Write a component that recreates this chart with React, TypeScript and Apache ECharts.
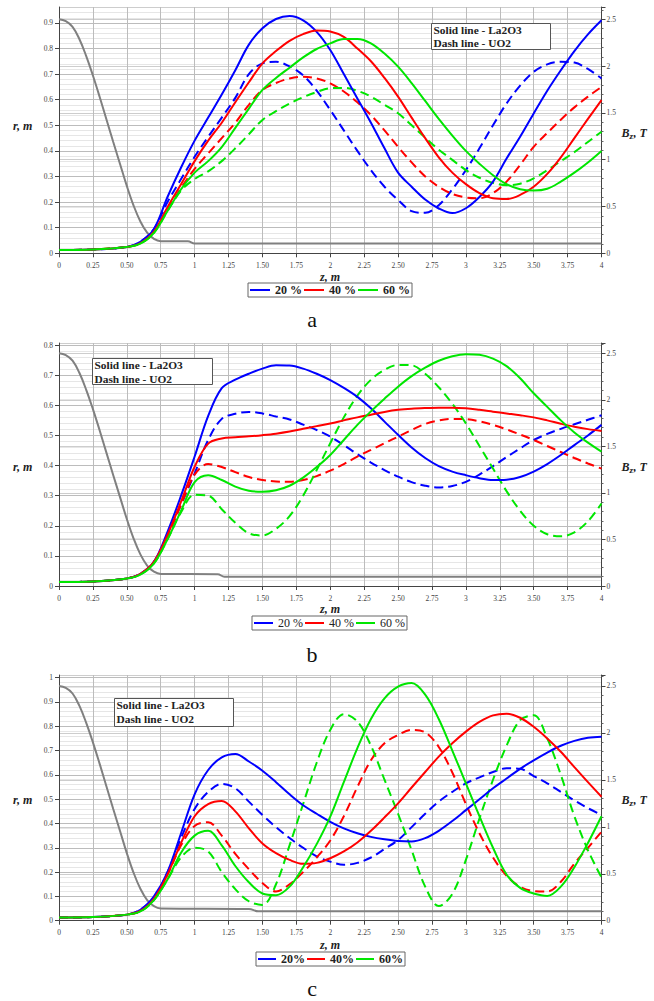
import React, { useEffect, useRef } from 'react';
import * as echarts from 'echarts';

// ---------- DATA ----------
const zGrid = [0, 0.25, 0.5, 0.6, 0.7, 0.8, 0.9, 1, 1.1, 1.2, 1.3, 1.4, 1.5, 1.6, 1.7, 1.8, 1.9, 2, 2.1, 2.2, 2.3, 2.4, 2.5, 2.6, 2.7, 2.8, 2.9, 3, 3.1, 3.2, 3.3, 3.4, 3.5, 3.6, 3.7, 3.8, 3.9, 4];
const zTicks = [0, 0.25, 0.5, 0.75, 1, 1.25, 1.5, 1.75, 2, 2.25, 2.5, 2.75, 3, 3.25, 3.5, 3.75, 4];

// panel a
const aBlueSolid = [0.013, 0.015, 0.025, 0.045, 0.095, 0.22, 0.335, 0.44, 0.53, 0.62, 0.715, 0.815, 0.879, 0.915, 0.927, 0.91, 0.865, 0.794, 0.70, 0.605, 0.51, 0.41, 0.315, 0.26, 0.21, 0.175, 0.157, 0.176, 0.22, 0.28, 0.37, 0.455, 0.546, 0.635, 0.715, 0.79, 0.855, 0.91];
const aBlueDash = [0.013, 0.015, 0.025, 0.045, 0.095, 0.2, 0.29, 0.377, 0.455, 0.53, 0.607, 0.70, 0.742, 0.748, 0.73, 0.695, 0.635, 0.56, 0.48, 0.40, 0.325, 0.26, 0.208, 0.165, 0.158, 0.188, 0.25, 0.325, 0.41, 0.50, 0.585, 0.655, 0.709, 0.738, 0.748, 0.745, 0.72, 0.683];
const aRedSolid = [0.013, 0.015, 0.025, 0.04, 0.085, 0.18, 0.27, 0.36, 0.44, 0.51, 0.59, 0.668, 0.742, 0.79, 0.83, 0.856, 0.87, 0.866, 0.845, 0.80, 0.75, 0.685, 0.612, 0.53, 0.45, 0.375, 0.315, 0.27, 0.235, 0.215, 0.212, 0.228, 0.26, 0.31, 0.375, 0.45, 0.525, 0.598];
const aRedDash = [0.013, 0.015, 0.025, 0.04, 0.085, 0.17, 0.255, 0.33, 0.39, 0.45, 0.51, 0.58, 0.638, 0.665, 0.683, 0.69, 0.683, 0.664, 0.632, 0.59, 0.54, 0.48, 0.416, 0.355, 0.30, 0.26, 0.232, 0.218, 0.215, 0.235, 0.28, 0.345, 0.416, 0.47, 0.522, 0.57, 0.612, 0.65];
const aGreenSolid = [0.013, 0.015, 0.025, 0.038, 0.08, 0.165, 0.25, 0.315, 0.36, 0.415, 0.49, 0.565, 0.638, 0.685, 0.725, 0.765, 0.798, 0.82, 0.837, 0.837, 0.82, 0.78, 0.729, 0.665, 0.595, 0.525, 0.46, 0.40, 0.35, 0.305, 0.27, 0.25, 0.245, 0.252, 0.28, 0.315, 0.355, 0.40];
const aGreenDash = [0.013, 0.015, 0.025, 0.038, 0.08, 0.165, 0.245, 0.29, 0.32, 0.36, 0.41, 0.465, 0.521, 0.555, 0.585, 0.61, 0.63, 0.645, 0.646, 0.635, 0.612, 0.58, 0.547, 0.5, 0.452, 0.405, 0.365, 0.325, 0.295, 0.275, 0.266, 0.272, 0.293, 0.325, 0.36, 0.395, 0.435, 0.475];

// panel b
const bBlueSolid = [0.013, 0.015, 0.025, 0.04, 0.08, 0.18, 0.30, 0.43, 0.565, 0.657, 0.685, 0.705, 0.722, 0.733, 0.732, 0.722, 0.705, 0.684, 0.658, 0.628, 0.59, 0.546, 0.502, 0.46, 0.425, 0.398, 0.38, 0.368, 0.358, 0.352, 0.353, 0.362, 0.38, 0.405, 0.435, 0.468, 0.50, 0.535];
const bBlueDash = [0.013, 0.015, 0.025, 0.04, 0.08, 0.17, 0.27, 0.374, 0.485, 0.555, 0.572, 0.578, 0.573, 0.563, 0.553, 0.536, 0.518, 0.496, 0.468, 0.438, 0.41, 0.385, 0.363, 0.345, 0.333, 0.327, 0.332, 0.346, 0.37, 0.398, 0.428, 0.457, 0.485, 0.505, 0.522, 0.537, 0.552, 0.567];
const bRedSolid = [0.013, 0.015, 0.025, 0.04, 0.08, 0.17, 0.28, 0.396, 0.473, 0.49, 0.494, 0.497, 0.501, 0.506, 0.513, 0.522, 0.531, 0.54, 0.55, 0.56, 0.569, 0.578, 0.585, 0.589, 0.591, 0.592, 0.592, 0.59, 0.585, 0.579, 0.573, 0.567, 0.56, 0.55, 0.539, 0.529, 0.521, 0.515];
const bRedDash = [0.013, 0.015, 0.025, 0.04, 0.08, 0.165, 0.27, 0.37, 0.405, 0.395, 0.378, 0.362, 0.352, 0.347, 0.346, 0.352, 0.365, 0.383, 0.405, 0.43, 0.452, 0.474, 0.496, 0.518, 0.538, 0.55, 0.555, 0.554, 0.547, 0.535, 0.52, 0.503, 0.485, 0.465, 0.445, 0.425, 0.407, 0.39];
const bGreenSolid = [0.013, 0.015, 0.025, 0.038, 0.075, 0.155, 0.25, 0.345, 0.368, 0.352, 0.33, 0.316, 0.313, 0.318, 0.333, 0.36, 0.395, 0.435, 0.485, 0.535, 0.58, 0.622, 0.662, 0.697, 0.725, 0.748, 0.763, 0.77, 0.768, 0.755, 0.73, 0.69, 0.64, 0.595, 0.55, 0.51, 0.476, 0.446];
const bGreenDash = [0.013, 0.015, 0.025, 0.038, 0.075, 0.155, 0.245, 0.303, 0.30, 0.255, 0.21, 0.175, 0.168, 0.19, 0.232, 0.30, 0.385, 0.474, 0.56, 0.632, 0.685, 0.718, 0.734, 0.733, 0.705, 0.66, 0.605, 0.54, 0.465, 0.39, 0.315, 0.25, 0.2, 0.172, 0.165, 0.178, 0.215, 0.274];

// panel c
const cBlueSolid = [0.013, 0.015, 0.025, 0.045, 0.1, 0.2, 0.36, 0.52, 0.62, 0.672, 0.686, 0.655, 0.617, 0.57, 0.52, 0.475, 0.44, 0.407, 0.38, 0.36, 0.345, 0.335, 0.328, 0.326, 0.34, 0.37, 0.41, 0.455, 0.5, 0.545, 0.585, 0.625, 0.66, 0.692, 0.72, 0.74, 0.753, 0.757];
const cBlueDash = [0.013, 0.015, 0.025, 0.045, 0.095, 0.2, 0.34, 0.46, 0.53, 0.563, 0.545, 0.49, 0.435, 0.385, 0.34, 0.3, 0.265, 0.243, 0.23, 0.238, 0.26, 0.295, 0.332, 0.385, 0.44, 0.49, 0.53, 0.565, 0.59, 0.612, 0.627, 0.625, 0.595, 0.565, 0.53, 0.495, 0.463, 0.435];
const cRedSolid = [0.013, 0.015, 0.025, 0.04, 0.09, 0.19, 0.32, 0.43, 0.48, 0.493, 0.45, 0.38, 0.318, 0.278, 0.25, 0.234, 0.238, 0.257, 0.285, 0.322, 0.37, 0.425, 0.483, 0.548, 0.612, 0.675, 0.73, 0.778, 0.818, 0.845, 0.852, 0.835, 0.798, 0.75, 0.695, 0.632, 0.57, 0.51];
const cRedDash = [0.013, 0.015, 0.025, 0.04, 0.09, 0.19, 0.31, 0.39, 0.405, 0.35, 0.275, 0.212, 0.155, 0.12, 0.15, 0.2, 0.26, 0.33, 0.43, 0.55, 0.66, 0.73, 0.764, 0.785, 0.775, 0.715, 0.61, 0.48, 0.36, 0.26, 0.185, 0.14, 0.122, 0.12, 0.16, 0.235, 0.3, 0.366];
const cGreenSolid = [0.013, 0.015, 0.025, 0.038, 0.085, 0.17, 0.28, 0.35, 0.37, 0.31, 0.225, 0.158, 0.112, 0.105, 0.14, 0.22, 0.315, 0.428, 0.57, 0.71, 0.83, 0.915, 0.963, 0.978, 0.93, 0.83, 0.70, 0.565, 0.43, 0.30, 0.19, 0.135, 0.112, 0.102, 0.14, 0.22, 0.32, 0.43];
const cGreenDash = [0.013, 0.015, 0.025, 0.038, 0.085, 0.17, 0.26, 0.30, 0.285, 0.2, 0.13, 0.08, 0.065, 0.15, 0.31, 0.48, 0.65, 0.785, 0.85, 0.82, 0.72, 0.58, 0.44, 0.29, 0.14, 0.06, 0.11, 0.25, 0.42, 0.58, 0.72, 0.825, 0.845, 0.75, 0.6, 0.43, 0.29, 0.178];

// magnetic field Bz (T)
const greyHeadZ = [0, 0.05, 0.1, 0.15, 0.2, 0.25, 0.3, 0.35, 0.4, 0.45, 0.5, 0.55, 0.6, 0.65, 0.7, 0.75];
const greyHead = [2.5, 2.48, 2.42, 2.29, 2.11, 1.9, 1.67, 1.43, 1.19, 0.955, 0.72, 0.51, 0.34, 0.22, 0.155, 0.13];
const greyTailZA = [0.95, 1.0, 4.0];
const greyTailA = [0.128, 0.105, 0.105];
const greyTailZB = [1.17, 1.22, 4.0];
const greyTailB = [0.126, 0.1, 0.1];
const greyTailZC = [1.4, 1.47, 4.0];
const greyTailC = [0.125, 0.1, 0.1];

const legendA = ['20 %', '40 %', '60 %'];
const legendC = ['20%', '40%', '60%'];
const rTicks = [0, 0.1, 0.2, 0.3, 0.4, 0.5, 0.6, 0.7, 0.8, 0.9, 1];
const bTicks = [0, 0.5, 1, 1.5, 2, 2.5];

// ---------- STYLE / LAYOUT ----------
const FONT = 'Liberation Serif';
const COLORS = ['#0000ff', '#ff0000', '#00e600'];
const GREY = '#808080';

const PANELS = [
  {
    top: 7, height: 246.3, leftMax: 0.962, rightMax: 2.632,
    solid: [aBlueSolid, aRedSolid, aGreenSolid], dash: [aBlueDash, aRedDash, aGreenDash],
    tailZ: greyTailZA, tail: greyTailA, names: legendA, bold: true,
    legendLeft: 248, legendTop: 283, iconW: 20,
    box: { x: 431, y: 23, w: 119, h: 26, tx: 433.5, l1: 29.5, l2: 42.5 },
    label: 'a', labelY: 319.5, nameY: 126, bzY: 133, zY: 276.5,
  },
  {
    top: 343, height: 243, leftMax: 0.807, rightMax: 2.61,
    solid: [bBlueSolid, bRedSolid, bGreenSolid], dash: [bBlueDash, bRedDash, bGreenDash],
    tailZ: greyTailZB, tail: greyTailB, names: legendA, bold: false,
    legendLeft: 252, legendTop: 616, iconW: 19,
    box: { x: 92, y: 358, w: 120, h: 26, tx: 94.5, l1: 365, l2: 378.5 },
    label: 'b', labelY: 654, nameY: 467, bzY: 467, zY: 608.5,
  },
  {
    top: 675, height: 245.7, leftMax: 1.011, rightMax: 2.617,
    solid: [cBlueSolid, cRedSolid, cGreenSolid], dash: [cBlueDash, cRedDash, cGreenDash],
    tailZ: greyTailZC, tail: greyTailC, names: legendC, bold: true,
    legendLeft: 256, legendTop: 952, iconW: 18,
    box: { x: 114, y: 698, w: 119, h: 28, tx: 116.5, l1: 704.5, l2: 718.5 },
    label: 'c', labelY: 988.5, nameY: 800, bzY: 800, zY: 944.5,
  },
];

const near = (v: number, arr: number[]) => arr.find((t) => Math.abs(t - v) < 1e-6);
const fmtZ = (v: number) => {
  const t = near(v, zTicks);
  if (t === undefined) return '';
  return Number.isInteger(t) ? String(t) : t.toFixed(2);
};
const fmtR = (v: number) => {
  const t = near(v, rTicks);
  return t === undefined ? '' : String(t);
};
const fmtB = (v: number) => {
  const t = near(v, bTicks);
  return t === undefined ? '' : String(t);
};

function buildOption() {
  const grid: any[] = [];
  const xAxis: any[] = [];
  const yAxis: any[] = [];
  const series: any[] = [];
  const legend: any[] = [];
  const graphic: any[] = [];
  const tickLabel = { fontSize: 7.5, fontFamily: FONT, color: '#444' };

  PANELS.forEach((p, i) => {
    grid.push({ left: 59, width: 542.5, top: p.top, height: p.height, show: false, outerBoundsMode: 'none' });
    xAxis.push({
      type: 'value', gridIndex: i, min: 0, max: 4, interval: 0.25,
      axisLine: { show: true, onZero: false, lineStyle: { color: '#444', width: 1 } },
      axisTick: { show: true, length: 4, lineStyle: { color: '#444' } },
      axisLabel: { ...tickLabel, margin: 8, formatter: fmtZ },
      splitLine: { show: true, lineStyle: { color: '#bcbcbc', width: 1 } },
    });
    yAxis.push({
      type: 'value', gridIndex: i, position: 'left', min: 0, max: p.leftMax, interval: 0.1,
      axisLine: { show: true, onZero: false, lineStyle: { color: '#444' } },
      axisTick: { show: true, length: 4, lineStyle: { color: '#444' } },
      axisLabel: { ...tickLabel, margin: 6, formatter: fmtR, showMaxLabel: false },
      splitLine: { show: true, lineStyle: { color: '#bcbcbc' } },
      minorTick: { show: false, splitNumber: 5 },
      minorSplitLine: { show: true, lineStyle: { color: '#e6e6e6' } },
    });
    yAxis.push({
      type: 'value', gridIndex: i, position: 'right', min: 0, max: p.rightMax, interval: 0.5,
      axisLine: { show: true, onZero: false, lineStyle: { color: '#444' } },
      axisTick: { show: true, length: 4, lineStyle: { color: '#444' } },
      minorTick: { show: true, splitNumber: 5, length: 2, lineStyle: { color: '#666' } },
      axisLabel: { ...tickLabel, margin: 5, formatter: fmtB, showMaxLabel: false },
      splitLine: { show: true, lineStyle: { color: '#cdcdcd' } },
    });

    const greyData = greyHeadZ.map((z, k) => [z, greyHead[k]]).concat(p.tailZ.map((z, k) => [z, p.tail[k]]));
    series.push({
      type: 'line', name: 'Bz ' + p.label, xAxisIndex: i, yAxisIndex: 2 * i + 1,
      data: greyData, showSymbol: false, symbol: 'none', smooth: 0.4,
      lineStyle: { color: GREY, width: 2 }, itemStyle: { color: GREY }, z: 2,
    });
    p.dash.forEach((vals, k) => {
      series.push({
        type: 'line', name: p.names[k] + ' UO2 ' + p.label, xAxisIndex: i, yAxisIndex: 2 * i,
        data: zGrid.map((z, j) => [z, vals[j]]), showSymbol: false, symbol: 'none', smooth: 0.35,
        lineStyle: { color: COLORS[k], width: 2, type: [9, 5] }, itemStyle: { color: COLORS[k] }, z: 3,
      });
    });
    p.solid.forEach((vals, k) => {
      series.push({
        type: 'line', name: p.names[k], xAxisIndex: i, yAxisIndex: 2 * i,
        data: zGrid.map((z, j) => [z, vals[j]]), showSymbol: false, symbol: 'none', smooth: 0.35,
        lineStyle: { color: COLORS[k], width: 2 }, itemStyle: { color: COLORS[k] }, color: COLORS[k], z: 4,
      });
    });

    legend.push({
      data: p.names, left: p.legendLeft, top: p.legendTop, orient: 'horizontal',
      icon: 'rect', itemWidth: p.iconW, itemHeight: 2, itemGap: 2, padding: [1, 2],
      borderColor: '#666', borderWidth: 1, backgroundColor: '#fff', selectedMode: false,
      textStyle: { fontFamily: FONT, fontSize: 12, fontWeight: p.bold ? 'bold' : 'normal', color: '#222' },
    });

    const b = p.box;
    const serifBold = `bold 11.4px ${FONT}`;
    const serifBI = `italic bold 12px ${FONT}`;
    graphic.push({
      type: 'rect', z: 10, shape: { x: b.x + 0.5, y: b.y + 0.5, width: b.w, height: b.h },
      style: { fill: '#fff', stroke: '#555', lineWidth: 1 },
    });
    graphic.push({
      type: 'text', z: 11, x: b.tx, y: b.l1,
      style: { text: 'Solid line - La2O3', font: serifBold, fill: '#222', align: 'left', verticalAlign: 'middle' },
    });
    graphic.push({
      type: 'text', z: 11, x: b.tx, y: b.l2,
      style: { text: 'Dash line - UO2', font: serifBold, fill: '#222', align: 'left', verticalAlign: 'middle' },
    });
    graphic.push({
      type: 'text', z: 11, x: 13, y: p.nameY,
      style: { text: 'r, m', font: serifBI, fill: '#222', align: 'left', verticalAlign: 'middle' },
    });
    graphic.push({
      type: 'text', z: 11, x: 621.5, y: p.bzY,
      style: { text: 'B', font: serifBI, fill: '#222', align: 'left', verticalAlign: 'middle' },
    });
    graphic.push({
      type: 'text', z: 11, x: 629.5, y: p.bzY + 2.5,
      style: { text: 'z', font: `italic bold 9px ${FONT}`, fill: '#222', align: 'left', verticalAlign: 'middle' },
    });
    graphic.push({
      type: 'text', z: 11, x: 633.5, y: p.bzY,
      style: { text: ', T', font: serifBI, fill: '#222', align: 'left', verticalAlign: 'middle' },
    });
    graphic.push({
      type: 'text', z: 11, x: 330, y: p.zY,
      style: { text: 'z, m', font: serifBI, fill: '#222', align: 'center', verticalAlign: 'middle' },
    });
    graphic.push({
      type: 'text', z: 11, x: 312, y: p.labelY,
      style: { text: p.label, font: `22px ${FONT}`, fill: '#111', align: 'center', verticalAlign: 'middle' },
    });
  });

  return {
    animation: false,
    backgroundColor: '#ffffff',
    grid, xAxis, yAxis, series, legend, graphic,
  };
}

export default function App() {
  const ref = useRef<HTMLDivElement>(null);
  useEffect(() => {
    if (!ref.current) return;
    const chart = echarts.init(ref.current, undefined, { renderer: 'svg' });
    chart.setOption(buildOption() as any);
    return () => chart.dispose();
  }, []);
  return (
    <div
      ref={ref}
      style={{ position: 'absolute', left: 0, top: 0, width: 654, height: 1001, background: '#fff' }}
    />
  );
}
